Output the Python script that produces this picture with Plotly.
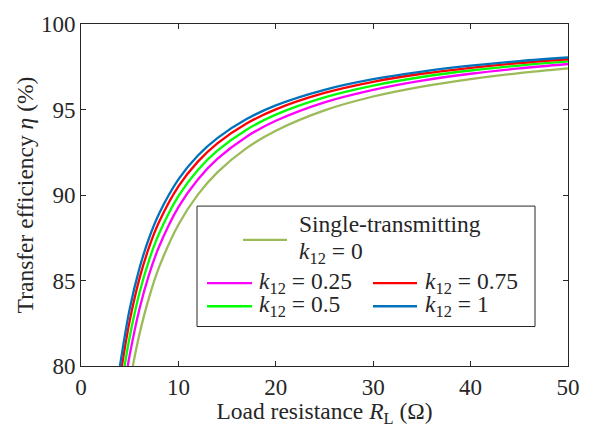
import plotly.graph_objects as go

# ---- data ----
x_single = [5.32, 6, 7, 8, 10, 12, 14, 17, 20, 25, 30, 35, 40, 45, 50]
y_single = [80.0, 81.86, 84.03, 85.75, 88.26, 90.02, 91.32, 92.74, 93.76, 94.95, 95.76, 96.34, 96.78, 97.13, 97.41]

x_k025 = [4.8, 5, 6, 7, 8, 10, 12, 14, 17, 20, 25, 30, 35, 40, 45, 50]
y_k025 = [80.0, 80.65, 83.33, 85.37, 86.96, 89.29, 90.91, 92.11, 93.41, 94.34, 95.42, 96.15, 96.69, 97.09, 97.40, 97.66]

x_k05 = [4.48, 5, 6, 7, 8, 10, 12, 14, 17, 20, 25, 30, 35, 40, 45, 50]
y_k05 = [80.0, 81.70, 84.27, 86.21, 87.72, 89.93, 91.46, 92.59, 93.82, 94.70, 95.71, 96.40, 96.90, 97.28, 97.57, 97.81]

x_k075 = [4.2, 5, 6, 7, 8, 10, 12, 14, 17, 20, 25, 30, 35, 40, 45, 50]
y_k075 = [80.0, 82.64, 85.11, 86.96, 88.40, 90.50, 91.95, 93.02, 94.18, 95.01, 95.97, 96.62, 97.09, 97.44, 97.72, 97.94]

x_k1 = [4.0, 5, 6, 7, 8, 10, 12, 14, 17, 20, 25, 30, 35, 40, 45, 50]
y_k1 = [80.0, 83.33, 85.71, 87.50, 88.89, 90.91, 92.31, 93.33, 94.44, 95.24, 96.15, 96.77, 97.22, 97.56, 97.83, 98.04]

series_names = ["Single-transmitting k12 = 0", "k12 = 0.25", "k12 = 0.5", "k12 = 0.75", "k12 = 1"]
series_colors = ["#9BBB59", "#FF00FF", "#00FF00", "#FF0000", "#0072BD"]
x_ticks = [0, 10, 20, 30, 40, 50]
y_ticks = [80, 85, 90, 95, 100]

FONT = "Liberation Serif, Times New Roman, serif"
AX = "#262626"
TICK_SIZE = 23
TITLE_SIZE = 23.5
LEG_SIZE = 23.5

fig = go.Figure()
all_x = [x_single, x_k025, x_k05, x_k075, x_k1]
all_y = [y_single, y_k025, y_k05, y_k075, y_k1]
for xs, ys, name, col in zip(all_x, all_y, series_names, series_colors):
    fig.add_trace(go.Scatter(x=xs, y=ys, mode="lines", name=name,
                             line=dict(color=col, width=2.3, shape="spline", smoothing=1.0),
                             showlegend=False))

axis_common = dict(showline=True, linecolor=AX, linewidth=1, mirror="allticks",
                   ticks="inside", ticklen=5, tickcolor=AX, showgrid=False, zeroline=False,
                   tickfont=dict(family=FONT, size=TICK_SIZE, color=AX))

TOP, BOTTOM, LEFT, RIGHT = 12, 367, 81, 568

fig.update_layout(
    width=610, height=428,
    margin=dict(l=LEFT, r=610 - RIGHT, t=TOP, b=428 - BOTTOM),
    paper_bgcolor="white", plot_bgcolor="white",
    font=dict(family=FONT, color=AX),
    xaxis=dict(range=[0, 50], tickvals=x_ticks, ticklabeloverflow="allow",
               title=dict(text="Load resistance <i>R</i><sub>L</sub> (Ω)", font=dict(family=FONT, size=TITLE_SIZE, color=AX), standoff=0),
               **axis_common),
    yaxis=dict(range=[80, 100], tickvals=y_ticks, ticklabeloverflow="allow",
               title=dict(text="Transfer efficiency <i>η</i> (%)", font=dict(family=FONT, size=TITLE_SIZE, color=AX), standoff=0),
               **axis_common),
)

# ---- manual legend (paper coordinates) ----
def px(xp):
    return (xp - LEFT) / (RIGHT - LEFT)

def py(yp):
    return (BOTTOM - yp) / (BOTTOM - TOP)

fig.add_shape(type="rect", xref="paper", yref="paper",
              x0=px(197), x1=px(535), y0=py(326), y1=py(201),
              line=dict(color=AX, width=1), fillcolor="white", layer="above")

legend_items = [
    (243, 287, 236, None, None, None),
    (207, 252, 281, 259, 281, "<i>k</i><sub>12</sub> = 0.25"),
    (207, 252, 305, 259, 305, "<i>k</i><sub>12</sub> = 0.5"),
    (373, 417, 281, 425, 281, "<i>k</i><sub>12</sub> = 0.75"),
    (373, 417, 305, 425, 305, "<i>k</i><sub>12</sub> = 1"),
]
for (lx0, lx1, ly, tx, ty, txt), col in zip(legend_items, series_colors):
    fig.add_shape(type="line", xref="paper", yref="paper",
                  x0=px(lx0), x1=px(lx1), y0=py(ly), y1=py(ly),
                  line=dict(color=col, width=2.3), layer="above")
    if txt:
        fig.add_annotation(xref="paper", yref="paper", x=px(tx), y=py(ty),
                           text=txt, showarrow=False, xanchor="left", yanchor="middle",
                           borderpad=0, borderwidth=0,
                           font=dict(family=FONT, size=LEG_SIZE, color=AX))

fig.add_annotation(xref="paper", yref="paper", x=px(299), y=py(220),
                   text="Single-transmitting", showarrow=False, xanchor="left", yanchor="middle",
                   borderpad=0, borderwidth=0,
                   font=dict(family=FONT, size=LEG_SIZE, color=AX))
fig.add_annotation(xref="paper", yref="paper", x=px(299), y=py(250),
                   text="<i>k</i><sub>12</sub> = 0", showarrow=False, xanchor="left", yanchor="middle",
                   borderpad=0, borderwidth=0,
                   font=dict(family=FONT, size=LEG_SIZE, color=AX))

fig.write_html("out.html")
